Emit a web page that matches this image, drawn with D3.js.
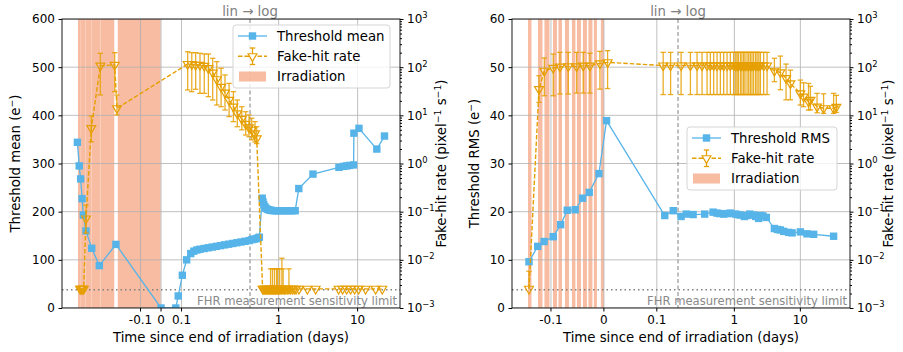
<!DOCTYPE html>
<html>
<head>
<meta charset="utf-8">
<script src="https://cdn.jsdelivr.net/npm/d3@7"></script>
<style>
  body { margin: 0; background: #fff; }
  svg { font-family: "DejaVu Sans", sans-serif; }
</style>
</head>
<body>
<div id="chart"></div>
<script>
// ---------------- data ----------------
var F = 2.5e-3;            // FHR points below sensitivity sit here
var fhrLimit = 2.4e-3;     // dotted sensitivity limit

var xTicks = [-0.1, 0, 0.1, 1, 10];
var xTickLabels = ["-0.1", "0", "0.1", "1", "10"];
var fhrTicks = [1e-3, 1e-2, 1e-1, 1, 10, 100, 1000];
var fhrTickExp = ["\u22123", "\u22122", "\u22121", "0", "1", "2", "3"];
var meanTicks = [0, 100, 200, 300, 400, 500, 600];
var rmsTicks = [0, 10, 20, 30, 40, 50, 60];

// irradiation periods, days since end [start, end]
var irradLeft = [[-0.405, -0.3912], [-0.3900, -0.3702], [-0.3690, -0.3412], [-0.3400, -0.2972],
                 [-0.2960, -0.228], [-0.211, -0.002]];
var irradRight = [[-0.1434, -0.1368], [-0.1245, -0.116], [-0.1123, -0.1028], [-0.0962, -0.0887],
                  [-0.0858, -0.0792], [-0.0736, -0.066], [-0.0604, -0.0538], [-0.0509, -0.0434],
                  [-0.0396, -0.0321], [-0.0292, -0.0217], [-0.0189, -0.0132], [-0.0057, 0]];

// threshold mean [t, e-]
var thrMean = [[-0.408, 344], [-0.399, 295], [-0.392, 268], [-0.385, 227], [-0.379, 193],
  [-0.366, 160], [-0.338, 124], [-0.301, 88], [-0.22, 132], [0, 0], [0.072, 0], [0.084, 25],
  [0.104, 68], [0.125, 100], [0.145, 113], [0.16, 118], [0.175, 120.5], [0.19, 122], [0.21, 123.5],
  [0.23, 125], [0.25, 126.5], [0.27, 128], [0.29, 129.5], [0.31, 131], [0.33, 132.5], [0.35, 134],
  [0.37, 135.5], [0.39, 137], [0.41, 138.5], [0.43, 140], [0.46, 142], [0.49, 143], [0.52, 144],
  [0.55, 145.5], [0.57, 147], [0.62, 228], [0.635, 220], [0.65, 214], [0.67, 210], [0.69, 207],
  [0.72, 205], [0.75, 204], [0.78, 203], [0.82, 202.5], [0.87, 202], [0.92, 202], [0.98, 202],
  [1.05, 202], [1.12, 202], [1.2, 202], [1.3, 202], [1.4, 202], [1.5, 202], [1.62, 202],
  [1.8, 248], [2.72, 278], [5.8, 292], [6.64, 294], [7.26, 295], [7.93, 296], [8.89, 297],
  [8.97, 363], [10.4, 373], [17.5, 330], [21.9, 357]];

// fake-hit rate, left panel [t, value, low, high]
var fhrLeft = [[-0.395, F], [-0.391, F], [-0.386, F], [-0.381, F], [-0.377, F],
  [-0.366, 0.072, 0.036, 0.137], [-0.340, 5.4, 2.83, 9.7], [-0.296, 107, 26.4, 194],
  [-0.226, 111, 31, 200], [-0.215, 14, 10.2, 26.4],
  [0.130, 116, 33.6, 209], [0.150, 115, 31, 200], [0.169, 111, 34.7, 200], [0.190, 111, 28.6, 194],
  [0.211, 106, 28.6, 188], [0.231, 95, 24.4, 188], [0.252, 77, 20.8, 153], [0.272, 56, 16.4, 130],
  [0.293, 39, 15.1, 95], [0.312, 29.5, 12.9, 69], [0.332, 20.8, 9.4, 46], [0.353, 15.1, 7.4, 31],
  [0.372, 11.0, 5.8, 20.8], [0.394, 8.4, 5.0, 15.1], [0.413, 6.6, 3.9, 11.9], [0.429, 5.6, 3.6, 10.2],
  [0.456, 5.0, 3.1, 8.7], [0.502, 4.2, 2.8, 7.4], [0.528, 3.3, 2.6, 5.8],
  [0.627, F], [0.645, F], [0.665, F], [0.685, F], [0.705, F], [0.725, F], [0.745, F], [0.765, F],
  [0.79, F, F, 6.5e-3], [0.81, F], [0.835, F, F, 6.5e-3], [0.86, F], [0.885, F, F, 6.5e-3], [0.91, F],
  [0.94, F, F, 6.5e-3], [0.97, F, F, 6.5e-3], [1.0, F], [1.03, F, F, 6.5e-3], [1.065, F],
  [1.1, F, F, 1.08e-2], [1.14, F, F, 6.5e-3], [1.18, F], [1.23, F], [1.29, F], [1.35, F, F, 6.5e-3],
  [1.42, F], [1.5, F], [1.58, F], [1.66, F],
  [1.806, F], [2.31, F], [2.94, F], [5.75, F], [6.45, F], [7.26, F], [8.15, F], [9.16, F],
  [10.3, F], [12.6, F], [16.9, F], [20.5, F]];

// threshold RMS [t, e-]
var thrRms = [[-0.1415, 9.6], [-0.125, 12.8], [-0.113, 13.8], [-0.0957, 14.8], [-0.0817, 17.3],
  [-0.0692, 20.3], [-0.0542, 20.4], [-0.0402, 22.8], [-0.0277, 24.0], [-0.0094, 27.9], [0.005, 38.9],
  [0.115, 19.2], [0.131, 20.2], [0.156, 19.0], [0.187, 19.5], [0.237, 19.4], [0.355, 19.5],
  [0.476, 19.9], [0.547, 19.7], [0.6, 19.6], [0.689, 19.5], [0.78, 19.6], [0.87, 19.7], [1.035, 19.5],
  [1.13, 19.4], [1.233, 19.3], [1.417, 19.0], [1.55, 19.2], [1.706, 19.5], [1.96, 19.3], [2.1, 19.0],
  [2.335, 18.6], [2.5, 19.2], [2.72, 19.1], [3.05, 18.8], [4.04, 16.5], [4.5, 16.3], [4.98, 16.2],
  [5.6, 15.9], [6.64, 15.7], [7.5, 15.6], [10.0, 15.8], [12.6, 15.4], [15.9, 15.3], [31.9, 14.9]];

// fake-hit rate, right panel [t, value, low, high]
var fhrRight = [[-0.1415, F, F, 5.8e-3], [-0.1226, 35, 18.6, 66.5], [-0.1126, 84, 25.5, 155],
  [-0.0957, 96, 25.5, 187], [-0.083, 102, 27.7, 203], [-0.0674, 104, 27.7, 203],
  [-0.0515, 104, 29, 203], [-0.039, 107, 29, 203], [-0.0264, 107, 29, 195],
  [-0.0075, 120, 35, 213], [0.007, 126, 36, 220],
  [0.112, 108, 27, 203], [0.126, 108, 27, 203], [0.156, 109, 27, 203], [0.216, 108, 27, 203],
  [0.272, 109, 27, 203], [0.324, 108, 27, 203], [0.386, 109, 27, 203], [0.433, 108, 27, 203],
  [0.486, 109, 27, 203], [0.547, 108, 27, 203], [0.614, 109, 27, 203], [0.689, 108, 27, 203],
  [0.775, 109, 27, 203], [0.87, 108, 27, 203], [0.976, 109, 27, 203], [1.05, 108, 27, 203],
  [1.1, 109, 27, 203], [1.15, 108, 27, 203], [1.233, 109, 27, 203], [1.3, 108, 27, 203],
  [1.383, 109, 27, 203], [1.45, 108, 27, 203], [1.557, 109, 27, 203], [1.65, 108, 27, 203],
  [1.748, 109, 27, 203], [1.85, 108, 27, 203], [1.96, 110, 27, 203], [2.1, 108, 27, 203],
  [2.21, 110, 27, 203], [2.35, 108, 27, 203], [2.48, 110, 27, 203], [2.78, 108, 27, 203],
  [3.13, 108, 27, 203],
  [4.04, 84, 50, 153], [4.98, 78, 34, 170], [6.07, 59, 21, 116], [7.06, 46, 21, 87],
  [10.0, 28.6, 16.4, 54], [11.2, 24.4, 15.1, 47.5], [13.3, 19.2, 12.9, 46], [14.2, 20.8, 13, 40],
  [17.9, 15.1, 11.3, 28.6], [22.5, 14, 11, 28], [31.9, 14, 11, 28.6], [35.1, 15, 11.5, 26]];

// ---------------- drawing ----------------
var blue = "#56b4e9", orange = "#e69f00", salmon = "#f4a582", gridC = "#b0b0b0";
var W = 903, H = 352;
var SQ = 7.4;   // square marker side
var svg = d3.select("#chart").append("svg").attr("width", W).attr("height", H);
var tri = d3.symbol().type(d3.symbolTriangle).size(34);

function sup(sel, base, exp) {
  sel.append("tspan").text(base);
  sel.append("tspan").attr("dy", -5).attr("font-size", "0.7em").text(exp);
  sel.append("tspan").attr("dy", 5).text("");
}

function panel(p) {
  var g = svg.append("g");
  var xl = d3.scaleLinear().domain([p.tmin, p.tsplit]).range([p.x0, p.pxSplit]);
  var xg = d3.scaleLog().domain([p.tsplit, p.tmax]).range([p.pxSplit, p.x1]);
  var x = function(t) { return t <= p.tsplit ? xl(t) : xg(t); };
  var yL = d3.scaleLinear().domain(p.leftDomain).range([p.y1, p.y0]);
  var yR = d3.scaleLog().domain([1e-3, 1e3]).range([p.y1, p.y0]);

  g.append("clipPath").attr("id", p.id).append("rect")
    .attr("x", p.x0).attr("y", p.y0).attr("width", p.x1 - p.x0).attr("height", p.y1 - p.y0);
  var plot = g.append("g").attr("clip-path", "url(#" + p.id + ")");

  // irradiation bands
  plot.selectAll(".irr").data(p.irrad).enter().append("rect")
    .attr("x", function(d) { return x(d[0]); })
    .attr("width", function(d) { return x(d[1]) - x(d[0]); })
    .attr("y", p.y0).attr("height", p.y1 - p.y0)
    .attr("fill", salmon).attr("fill-opacity", 0.75);

  // grid
  plot.selectAll(".gx").data(xTicks).enter().append("line")
    .attr("x1", x).attr("x2", x).attr("y1", p.y0).attr("y2", p.y1)
    .attr("stroke", gridC).attr("stroke-width", 0.8);
  plot.selectAll(".gy").data(p.leftTicks).enter().append("line")
    .attr("x1", p.x0).attr("x2", p.x1).attr("y1", yL).attr("y2", yL)
    .attr("stroke", gridC).attr("stroke-width", 0.8);

  // sensitivity limit + lin/log marker
  plot.append("line").attr("x1", p.x0).attr("x2", p.x1)
    .attr("y1", yR(fhrLimit)).attr("y2", yR(fhrLimit))
    .attr("stroke", "#808080").attr("stroke-width", 1.5).attr("stroke-dasharray", "1.5,3");
  plot.append("line").attr("x1", p.pxSplit).attr("x2", p.pxSplit).attr("y1", p.y0).attr("y2", p.y1)
    .attr("stroke", "#808080").attr("stroke-width", 1).attr("stroke-dasharray", "4,2.5");
  g.append("text").attr("x", p.pxSplit).attr("y", p.y0 - 8).attr("dy", "0.35em")
    .attr("text-anchor", "middle").attr("font-size", 13.3).attr("fill", "#808080")
    .text("lin \u2192 log");
  plot.append("text").attr("x", p.x1 - 3).attr("y", p.y1 - 3)
    .attr("text-anchor", "end").attr("font-size", 11.6).attr("fill", "#8a8a8a")
    .text("FHR measurement sensitivity limit");

  // threshold series
  var lineB = d3.line().x(function(d) { return x(d[0]); }).y(function(d) { return yL(d[1]); });
  plot.append("path").datum(p.blue).attr("d", lineB)
    .attr("fill", "none").attr("stroke", blue).attr("stroke-width", 1.3);
  plot.selectAll(".sq").data(p.blue).enter().append("rect")
    .attr("x", function(d) { return x(d[0]) - SQ / 2; }).attr("y", function(d) { return yL(d[1]) - SQ / 2; })
    .attr("width", SQ).attr("height", SQ).attr("fill", blue);

  // fake-hit rate series
  var lineO = d3.line().x(function(d) { return x(d[0]); }).y(function(d) { return yR(d[1]); });
  plot.append("path").datum(p.fhr).attr("d", lineO)
    .attr("fill", "none").attr("stroke", orange).attr("stroke-width", 1.4)
    .attr("stroke-dasharray", "4.5,2");
  var eb = plot.selectAll(".eb").data(p.fhr.filter(function(d) { return d.length > 2; }))
    .enter().append("g").attr("stroke", orange).attr("stroke-width", 1.3).attr("stroke-opacity", 0.85);
  eb.append("line").attr("x1", function(d) { return x(d[0]); }).attr("x2", function(d) { return x(d[0]); })
    .attr("y1", function(d) { return yR(d[2]); }).attr("y2", function(d) { return yR(d[3]); });
  eb.append("line").attr("x1", function(d) { return x(d[0]) - 2.7; }).attr("x2", function(d) { return x(d[0]) + 2.7; })
    .attr("y1", function(d) { return yR(d[3]); }).attr("y2", function(d) { return yR(d[3]); });
  eb.filter(function(d) { return d[2] < d[1]; }).append("line")
    .attr("x1", function(d) { return x(d[0]) - 2.7; }).attr("x2", function(d) { return x(d[0]) + 2.7; })
    .attr("y1", function(d) { return yR(d[2]); }).attr("y2", function(d) { return yR(d[2]); });
  plot.selectAll(".tri").data(p.fhr).enter().append("path")
    .attr("d", tri)
    .attr("transform", function(d) { return "translate(" + x(d[0]) + "," + yR(d[1]) + ") rotate(180)"; })
    .attr("fill", "none").attr("stroke", orange).attr("stroke-width", 1.2);

  // spines
  g.append("rect").attr("x", p.x0).attr("y", p.y0).attr("width", p.x1 - p.x0).attr("height", p.y1 - p.y0)
    .attr("fill", "none").attr("stroke", "#000").attr("stroke-width", 0.9);

  // axes
  var ax = g.append("g").attr("transform", "translate(" + p.x0 + ",0)")
    .call(d3.axisLeft(yL).tickValues(p.leftTicks).tickSize(3.5).tickPadding(3.5).tickSizeOuter(0));
  ax.select(".domain").remove();
  ax.selectAll("text").attr("font-size", 12).attr("font-family", "DejaVu Sans").attr("fill", "#000");

  var minor = [];
  fhrTicks.slice(0, -1).forEach(function(d) { for (var m = 2; m < 10; m++) minor.push(d * m); });
  var axm = g.append("g").attr("transform", "translate(" + p.x1 + ",0)")
    .call(d3.axisRight(yR).tickValues(minor).tickSize(2).tickFormat(""));
  axm.select(".domain").remove();
  var axr = g.append("g").attr("transform", "translate(" + p.x1 + ",0)")
    .call(d3.axisRight(yR).tickValues(fhrTicks).tickSize(3.5).tickPadding(3.5).tickFormat(""));
  axr.select(".domain").remove();
  axr.selectAll(".tick text").each(function(d, i) {
    var s = d3.select(this).attr("font-size", 12).attr("font-family", "DejaVu Sans").attr("fill", "#000");
    sup(s, "10", fhrTickExp[i]);
  });

  // x axis (drawn by hand: piecewise lin/log)
  var xt = g.append("g").selectAll("g").data(xTicks).enter().append("g")
    .attr("transform", function(d) { return "translate(" + x(d) + "," + p.y1 + ")"; });
  xt.append("line").attr("y2", 3.5).attr("stroke", "#000");
  xt.append("text").attr("y", 7).attr("dy", "0.71em").attr("text-anchor", "middle")
    .attr("font-size", 12).text(function(d, i) { return xTickLabels[i]; });

  g.append("text").attr("x", (p.x0 + p.x1) / 2).attr("y", 342).attr("text-anchor", "middle")
    .attr("font-size", 13.3).text("Time since end of irradiation (days)");
  var lt = g.append("text").attr("transform", "translate(" + p.leftTitleX + "," + ((p.y0 + p.y1) / 2) + ") rotate(-90)")
    .attr("text-anchor", "middle").attr("font-size", 13.3);
  lt.append("tspan").text(p.leftTitle + " (e");
  lt.append("tspan").attr("dy", -5).attr("font-size", "0.7em").text("\u2212");
  lt.append("tspan").attr("dy", 5).text(")");
  var rt = g.append("text").attr("transform", "translate(" + p.rightTitleX + "," + ((p.y0 + p.y1) / 2) + ") rotate(-90)")
    .attr("text-anchor", "middle").attr("font-size", 13.3);
  rt.append("tspan").text("Fake-hit rate (pixel");
  rt.append("tspan").attr("dy", -5).attr("font-size", "0.7em").text("\u22121");
  rt.append("tspan").attr("dy", 5).text(" s");
  rt.append("tspan").attr("dy", -5).attr("font-size", "0.7em").text("\u22121");
  rt.append("tspan").attr("dy", 5).text(")");

  // legend
  var L = p.legend;
  var lg = g.append("g").attr("transform", "translate(" + L[0] + "," + L[1] + ")");
  lg.append("rect").attr("width", L[2]).attr("height", 63).attr("rx", 3)
    .attr("fill", "#fff").attr("fill-opacity", 0.8).attr("stroke", "#d5d5d5");
  var rows = [p.blueLabel, "Fake-hit rate", "Irradiation"];
  rows.forEach(function(r, i) {
    var yy = 11 + i * 20.3;
    lg.append("text").attr("x", 44).attr("y", yy).attr("dy", "0.35em").attr("font-size", 13.3).text(r);
  });
  lg.append("line").attr("x1", 5).attr("x2", 34).attr("y1", 11).attr("y2", 11)
    .attr("stroke", blue).attr("stroke-width", 1.3);
  lg.append("rect").attr("x", 19.5 - SQ / 2).attr("y", 11 - SQ / 2).attr("width", SQ).attr("height", SQ).attr("fill", blue);
  lg.append("line").attr("x1", 5).attr("x2", 34).attr("y1", 31.3).attr("y2", 31.3)
    .attr("stroke", orange).attr("stroke-width", 1.4).attr("stroke-dasharray", "4.5,2");
  lg.append("line").attr("x1", 19.5).attr("x2", 19.5).attr("y1", 23).attr("y2", 39.5)
    .attr("stroke", orange).attr("stroke-width", 1.3);
  lg.append("line").attr("x1", 16.8).attr("x2", 22.2).attr("y1", 23).attr("y2", 23)
    .attr("stroke", orange).attr("stroke-width", 1.3);
  lg.append("line").attr("x1", 16.8).attr("x2", 22.2).attr("y1", 39.5).attr("y2", 39.5)
    .attr("stroke", orange).attr("stroke-width", 1.3);
  lg.append("path").attr("d", tri).attr("transform", "translate(19.5,31.3) rotate(180)")
    .attr("fill", "#fff").attr("stroke", orange).attr("stroke-width", 1.2);
  lg.append("rect").attr("x", 6).attr("y", 46.5).attr("width", 27).attr("height", 10)
    .attr("fill", salmon).attr("fill-opacity", 0.75);
}

panel({ id: "clipL", x0: 62, x1: 400, y0: 19, y1: 308,
  tmin: -0.483, tsplit: 0.434, pxSplit: 250, tmax: 34.4,
  irrad: irradLeft, blue: thrMean, fhr: fhrLeft,
  leftDomain: [0, 600], leftTicks: meanTicks, leftTitle: "Threshold mean",
  leftTitleX: 20, rightTitleX: 446, legend: [233, 25, 157], blueLabel: "Threshold mean" });

panel({ id: "clipR", x0: 512, x1: 850, y0: 19, y1: 308,
  tmin: -0.1736, tsplit: 0.14, pxSplit: 678, tmax: 56.5,
  irrad: irradRight, blue: thrRms, fhr: fhrRight,
  leftDomain: [0, 60], leftTicks: rmsTicks, leftTitle: "Threshold RMS",
  leftTitleX: 479, rightTitleX: 893, legend: [687, 127, 150], blueLabel: "Threshold RMS" });
</script>
</body>
</html>
